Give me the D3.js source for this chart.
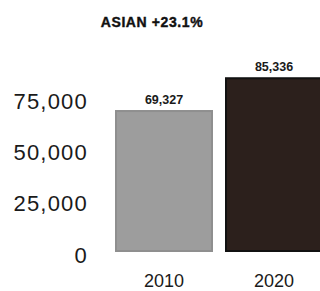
<!DOCTYPE html>
<html>
<head>
<meta charset="utf-8">
<script src="https://cdn.jsdelivr.net/npm/d3@7"></script>
<style>
  body { margin: 0; background: #fff; }
  svg { display: block; font-family: "Liberation Sans", Arial, Helvetica, sans-serif; }
</style>
</head>
<body>
<svg width="320" height="291"></svg>
<script>
// data
const years = ["2010", "2020"];
const population = [69327, 85336];
const tickValues = [0, 25000, 50000, 75000];
const titleText = "ASIAN +23.1%";

let svg = d3.select("svg");

const x = d3.scaleBand().domain(years).range([115, 323]).paddingInner(12 / 110).paddingOuter(0);
const y = d3.scaleLinear().domain([0, 75000]).range([252, 98.4]);

const barFill = { "2010": "#9d9d9d", "2020": "#2c201c" };
const barStroke = { "2010": "#8f8f8f", "2020": "#111" };

svg
  .append("text")
  .text(titleText)
  .attr("x", 152)
  .attr("y", 26.5)
  .attr("text-anchor", "middle")
  .style("font-size", "14px")
  .style("font-weight", "bold")
  .style("letter-spacing", "0.6px")
  .style("stroke", "#111")
  .style("stroke-width", "0.4px")
  .style("fill", "#111");

// y axis, no line or ticks, just labels
const yAxis = d3.axisLeft(y).tickValues(tickValues).tickFormat(d3.format(",")).tickSize(0).tickPadding(0);
const yg = svg.append("g").attr("transform", "translate(88,0)").call(yAxis);
yg.select(".domain").remove();
yg.selectAll("text")
  .attr("dy", null)
  .attr("y", 10)
  .style("font-size", "22px")
  .style("letter-spacing", "1.2px")
  .style("font-family", "inherit")
  .style("fill", "#1a1a1a");

const data = years.map((yr, i) => ({ year: yr, value: population[i] }));

svg
  .selectAll("rect.bar")
  .data(data)
  .enter()
  .append("rect")
  .attr("class", "bar")
  .attr("x", (d) => x(d.year) + 1)
  .attr("y", (d) => y(d.value) + 1)
  .attr("width", x.bandwidth() - 2)
  .attr("height", (d) => y(0) - y(d.value) - 2)
  .attr("fill", (d) => barFill[d.year])
  .attr("stroke", (d) => barStroke[d.year])
  .attr("stroke-width", 2);

svg
  .selectAll("text.val")
  .data(data)
  .enter()
  .append("text")
  .attr("class", "val")
  .text((d) => d3.format(",")(d.value))
  .attr("x", (d) => x(d.year) + x.bandwidth() / 2)
  .attr("y", (d) => y(d.value) - 6)
  .attr("text-anchor", "middle")
  .style("font-size", "12.5px")
  .style("font-weight", "bold")
  .style("fill", "#1a1a1a");

// x axis labels
const xAxis = d3.axisBottom(x).tickSize(0).tickPadding(0);
const xg = svg.append("g").attr("transform", "translate(0,287)").call(xAxis);
xg.select(".domain").remove();
xg.selectAll("text")
  .attr("dy", null)
  .attr("y", 0)
  .style("font-size", "18px")
  .style("font-family", "inherit")
  .style("fill", "#1a1a1a");
</script>
</body>
</html>
